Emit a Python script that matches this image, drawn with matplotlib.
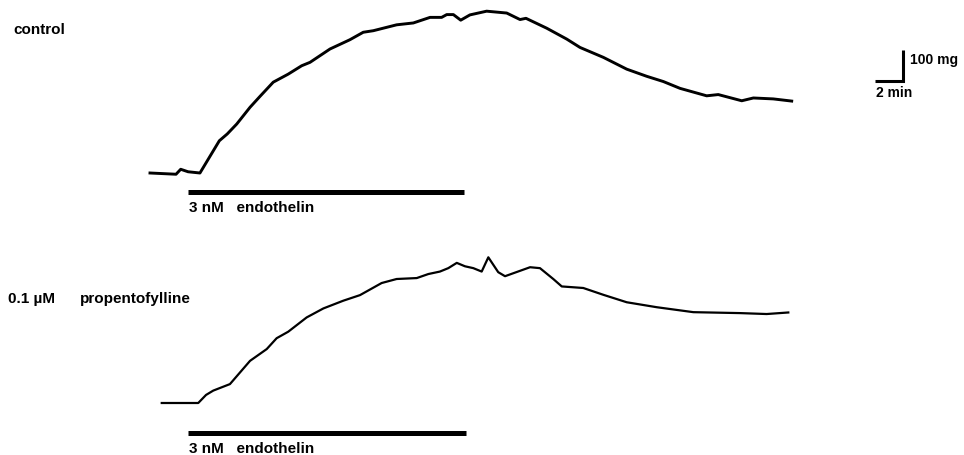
import numpy as np
import matplotlib.pyplot as plt

plt.rcParams['font.family'] = ['Liberation Sans', 'DejaVu Sans']

# isometric tension traces, time in min, tension in mg above baseline
control_t = [0, 1.84, 2.17, 2.69, 3.53, 4.90, 5.46, 6.13, 7.07, 7.77, 8.71, 9.77,
             10.72, 11.31, 12.72, 14.13, 15.07, 15.78, 17.43, 18.61, 19.79, 20.61,
             20.97, 21.44, 21.96, 22.61, 23.79, 25.21, 26.15, 26.57, 28.04, 29.45,
             30.39, 32.04, 33.69, 35.10, 36.28, 37.46, 39.34, 40.16, 41.82, 42.64,
             44.05, 45.35]
control_mg = [0, -4, 12, 4, 0, 104, 126, 158, 212, 247, 293, 319,
              346, 357, 400, 430, 454, 459, 478, 484, 502, 502,
              511, 511, 493, 510, 522, 516, 495, 499, 467, 432,
              405, 373, 335, 312, 295, 273, 249, 253, 233, 242,
              239, 232]

propento_t = [0.83, 3.41, 3.96, 4.47, 5.65, 7.07, 8.25, 8.95, 9.77, 11.07, 12.25,
              13.66, 14.84, 16.37, 17.43, 18.85, 19.67, 20.49, 21.08, 21.68, 22.26,
              22.85, 23.44, 23.91, 24.61, 25.09, 26.86, 27.56, 28.50, 29.10, 30.62,
              32.04, 33.69, 35.81, 38.40, 41.70, 43.58, 45.11]
propento_mg = [0, 0, 26, 40, 61, 136, 174, 209, 230, 276, 305,
               330, 348, 387, 400, 403, 416, 424, 435, 452, 441,
               435, 424, 470, 422, 409, 438, 435, 400, 376, 371,
               349, 325, 309, 293, 290, 287, 292]

endothelin_on = (2.7, 22.2)
control_label = 'control'
drug_conc = '0.1 \u00b5M'
drug_name = 'propentofylline'
bar_label = '3 nM   endothelin'

PX_MIN = 14.15   # pixels per min
PX_MG = 0.31     # pixels per mg
W, H = 964, 456
FS = 11

fig = plt.figure(figsize=(W / 100, H / 100), dpi=100)

def panel(rect, base_px, top_px, bot_px):
    ax = fig.add_axes(rect)
    ax.set_xlim(-150 / PX_MIN, (W - 150) / PX_MIN)
    ax.set_ylim((base_px - bot_px) / PX_MG, (base_px - top_px) / PX_MG)
    ax.axis('off')
    return ax

ax1 = panel([0, 0.5, 1, 0.5], 174, 0, 228)
ax2 = panel([0, 0, 1, 0.5], 404, 228, 456)

ax1.plot(control_t, control_mg, color='black', lw=2.1, solid_joinstyle='round')
ax2.plot(propento_t, propento_mg, color='black', lw=1.6, solid_joinstyle='round')

# endothelin application bars
ax1.plot(endothelin_on, [-61, -61], color='black', lw=3.6, solid_capstyle='butt')
ax1.text(endothelin_on[0] + 0.05, -110, bar_label, fontsize=FS, fontweight='bold',
         va='center', ha='left')
ax2.plot([endothelin_on[0], endothelin_on[1] + 0.1], [-98, -98], color='black',
         lw=3.6, solid_capstyle='butt')
ax2.text(endothelin_on[0] + 0.05, -146, bar_label, fontsize=FS, fontweight='bold',
         va='center', ha='left')

txt = dict(fontsize=FS, fontweight='bold', va='center', ha='left')
fig.text(13 / W, 1 - 30.5 / H, control_label, **txt)
fig.text(8.5 / W, 1 - 299.5 / H, drug_conc, **txt)
fig.text(79.5 / W, 1 - 299.5 / H, drug_name, **txt)

# scale bar: 2 min x 100 mg
sx, sy = 53.24, 297.7
ax1.plot([sx - 2, sx, sx], [sy, sy, sy + 100], color='black', lw=2.2,
         solid_joinstyle='miter', solid_capstyle='butt')
ax1.text(sx + 0.45, sy + 70, '100 mg', fontsize=10, fontweight='bold',
         va='center', ha='left')
ax1.text(sx - 1.95, sy - 37, '2 min', fontsize=10, fontweight='bold',
         va='center', ha='left')

fig.savefig('out.png', dpi=100, facecolor='white')
